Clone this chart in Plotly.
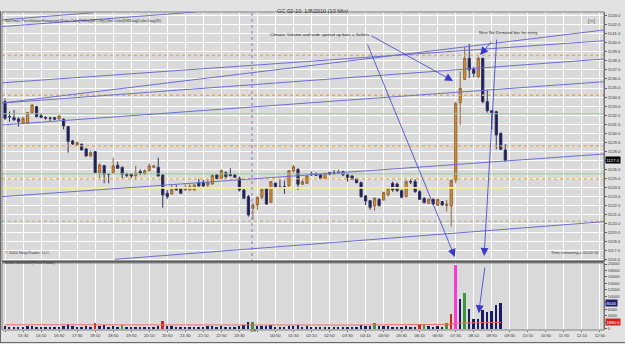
import plotly.graph_objects as go

# ---------------- data ----------------
bars = list(range(112))

opens = [1133.49,1131.85,1131.72,1131.58,1131.10,1131.10,1132.28,1132.94,1131.94,1131.72,
1131.68,1131.72,1131.58,1131.54,1130.73,1129.14,1128.70,1128.77,1128.26,1127.48,
1127.96,1125.64,1126.41,1125.47,1125.64,1126.45,1126.23,1125.49,1125.49,1125.31,
1125.75,1125.49,1125.86,1126.23,1126.23,1125.38,1123.35,1123.28,1123.91,1123.91,
1123.72,1123.72,1123.72,1124.53,1124.57,1124.27,1124.39,1125.38,1124.98,1125.64,
1125.45,1125.38,1125.01,1123.72,1122.98,1121.69,1122.06,1122.91,1123.90,1122.35,
1124.46,1124.05,1124.09,1124.20,1125.82,1126.00,1124.35,1124.46,1125.56,1125.56,
1125.45,1125.01,1125.64,1125.60,1125.56,1125.75,1125.41,1125.27,1124.94,1124.53,
1123.06,1122.54,1121.95,1122.69,1122.61,1123.17,1124.45,1124.38,1123.64,1122.98,
1124.66,1124.64,1123.53,1122.80,1122.24,1122.68,1122.02,1122.43,1122.00,1121.95,
1124.82,1133.38,1135.96,1138.28,1137.07,1136.25,1138.28,1133.49,1132.49,1132.38,
1129.99,1128.14]

highs = [1133.86,1132.39,1132.57,1131.76,1131.83,1132.35,1133.24,1133.01,1132.20,1131.90,
1131.83,1131.80,1132.02,1131.65,1130.80,1129.25,1129.07,1128.88,1128.33,1128.07,
1128.04,1126.67,1126.49,1125.57,1127.30,1126.86,1126.30,1125.64,1125.57,1126.38,
1126.01,1126.01,1126.67,1126.49,1127.30,1125.45,1123.72,1124.27,1124.27,1124.00,
1124.35,1124.46,1124.39,1124.98,1124.83,1124.90,1125.45,1125.45,1126.01,1125.75,
1126.12,1125.49,1125.20,1123.91,1123.17,1122.24,1122.98,1123.90,1123.98,1124.71,
1124.57,1124.83,1124.75,1125.93,1126.48,1126.12,1124.83,1125.38,1125.75,1125.64,
1125.56,1125.64,1125.71,1125.93,1126.00,1125.82,1125.56,1125.34,1125.01,1124.64,
1123.17,1122.61,1122.87,1122.80,1123.53,1124.09,1124.64,1124.53,1123.79,1124.82,
1124.90,1124.90,1123.72,1122.91,1122.80,1122.80,1122.75,1122.50,1122.61,1124.90,
1133.49,1136.81,1139.57,1139.87,1137.36,1138.47,1138.39,1134.78,1132.57,1132.49,
1130.06,1128.80]

lows = [1131.47,1131.28,1131.39,1130.73,1130.99,1131.02,1132.20,1131.76,1131.65,1131.50,
1131.28,1131.45,1131.47,1130.43,1127.85,1128.70,1128.60,1128.07,1127.41,1127.41,
1125.57,1125.01,1124.46,1124.46,1125.57,1126.01,1124.94,1125.09,1125.01,1124.83,
1125.38,1125.38,1125.75,1126.12,1125.20,1121.77,1122.73,1123.17,1123.65,1123.28,
1123.65,1123.65,1123.65,1124.09,1124.09,1123.91,1124.27,1124.90,1124.90,1124.94,
1125.20,1125.01,1123.54,1122.69,1120.77,1120.40,1121.51,1122.69,1122.06,1122.24,
1123.90,1123.90,1123.30,1123.90,1125.64,1123.72,1124.27,1124.38,1125.27,1125.27,
1124.90,1124.94,1125.34,1125.38,1125.45,1125.27,1124.64,1124.83,1124.46,1122.87,
1122.06,1121.51,1121.43,1121.88,1122.54,1122.98,1123.53,1123.53,1122.80,1122.91,
1124.38,1123.42,1122.61,1122.24,1122.17,1122.06,1121.95,1121.98,1121.32,1119.66,
1124.45,1130.91,1135.89,1136.07,1136.18,1136.07,1133.30,1132.27,1130.43,1128.22,
1128.14,1126.85]

closes = [1131.65,1131.80,1131.47,1131.28,1131.65,1132.28,1133.12,1131.83,1131.76,1131.68,
1131.63,1131.54,1131.91,1130.80,1129.07,1128.81,1128.96,1128.15,1127.48,1127.85,
1125.64,1126.49,1125.45,1125.43,1126.38,1126.12,1125.45,1125.34,1125.27,1125.57,
1125.57,1125.86,1126.38,1126.38,1125.27,1123.17,1122.98,1123.80,1123.72,1123.35,
1123.91,1124.09,1124.27,1124.16,1124.16,1124.53,1125.34,1124.98,1125.86,1125.20,
1125.31,1125.12,1123.72,1122.80,1120.96,1122.06,1122.91,1123.79,1122.17,1124.64,
1124.01,1124.00,1123.98,1125.86,1126.30,1124.35,1124.64,1125.27,1125.45,1125.34,
1125.01,1125.56,1125.45,1125.56,1125.75,1125.38,1125.12,1124.90,1124.53,1122.98,
1122.50,1121.80,1122.80,1121.99,1123.42,1123.90,1123.72,1123.64,1122.91,1124.64,
1124.62,1123.53,1122.68,1122.32,1122.68,1122.17,1122.68,1122.06,1122.17,1124.75,
1133.30,1134.96,1138.28,1137.00,1136.62,1138.28,1133.49,1132.49,1132.27,1129.80,
1128.22,1127.00]

# volume is plotted on bar close, so the forming bar (111) has no volume bar yet
vol_bars = list(range(111))
volume = [700,500,450,550,400,650,700,600,450,350,
300,350,400,800,1300,700,500,600,800,600,
1800,900,1000,600,900,500,1000,450,400,600,
400,500,600,400,900,2400,900,700,500,500,
450,500,600,500,450,700,800,500,700,500,
550,450,900,1000,2100,2000,900,800,700,1000,
500,450,600,900,700,1000,500,700,400,350,
500,500,350,350,400,350,450,400,500,1200,
700,800,1600,700,800,700,600,500,600,900,
400,600,1400,1500,700,600,800,600,1800,4600,
19700,9200,10900,6200,3100,2900,5700,5100,5300,7200,
8044]

# volume bar class: n = normal, r = climax, g = churn, m = climax+churn
vol_kind = {20: 'r', 35: 'r', 92: 'r', 99: 'r',
            26: 'g', 55: 'g', 82: 'g', 93: 'g', 98: 'g', 102: 'g',
            100: 'm'}

vol_avg = [1150,1150,1140,1140,1130,1130,1130,1120,1120,1110,
1100,1100,1100,1110,1140,1150,1150,1150,1160,1160,
1200,1210,1220,1220,1230,1230,1240,1240,1240,1240,
1240,1240,1240,1240,1250,1300,1300,1300,1290,1280,
1270,1260,1250,1240,1230,1220,1210,1200,1190,1180,
1170,1160,1160,1170,1200,1220,1220,1220,1220,1220,
1210,1200,1190,1180,1170,1160,1150,1140,1130,1120,
1110,1100,1090,1080,1070,1060,1060,1060,1060,1070,
1070,1080,1100,1100,1100,1100,1100,1100,1100,1110,
1100,1100,1120,1140,1140,1140,1150,1150,1180,1280,
1650,1720,1780,1800,1790,1780,1800,1820,1840,1860,
1880]

tick_bars = list(range(0, 133, 4))
tick_labels = ["14:50","15:30","16:10","16:50","17:30","18:10","18:50","19:30","20:10",
               "20:50","21:30","22:10","22:50","23:30","","00:50","01:30","02:10",
               "02:50","03:30","04:10","04:50","05:30","06:10","06:50","07:30","08:10",
               "08:50","09:30","10:10","10:50","11:30","12:10","12:50"]
date_break_bar = 54.8
date_label = "1/8"

price_ticks = list(range(1116, 1144))
volume_ticks = list(range(0, 20001, 2000))

orange_levels = [1138.6, 1134.2, 1128.6, 1124.95, 1120.25]
green_levels = [1132.15, 1125.5]
yellow_level = 1123.95

# trend lines: (bar0, price0, bar1, price1)
trend_lines = [(-1.11, 1142.52, 19.52, 1143.33),
               (-1.11, 1141.78, 42.37, 1143.41),
               (-0.67, 1133.34, 132.9, 1138.21),
               (-0.67, 1130.91, 132.9, 1135.70),
               (-0.67, 1122.98, 132.9, 1127.70),
               (24.4, 1116.05, 132.9, 1120.21),
               (-0.67, 1133.34, 132.9, 1141.42),
               (-1.11, 1135.56, 132.9, 1140.23)]

# arrows on price panel: (head_bar, head_price, tail_bar, tail_price)
price_arrows = [(99.4, 1135.78, 80.97, 1140.87),
                (99.8, 1116.31, 80.3, 1139.98),
                (105.4, 1138.65, 108.25, 1140.31),
                (106.3, 1116.42, 109.1, 1140.53)]
# arrow on volume panel: (head_bar, head_vol, tail_bar, tail_vol)
volume_arrows = [(105.1, 4730, 106.5, 19390)]

note1 = ("Climatic Volume and wide spread up bars = Sellers", 69.9, 1140.87)
note2 = ("Nice No Demand bar for entry", 111.8, 1141.09)

X_RANGE = [-0.67, 132.9]
P_RANGE = [1115.75, 1143.41]
V_RANGE = [-465, 20310]

# ---------------- figure ----------------
W, H = 625, 344
ML, MR, MT, MB = 2, 21, 12, 14
def px(x):
    return (x - ML) / (W - ML - MR)
def py(y):
    return (H - MB - y) / (H - MT - MB)

FONT = "Arial, Liberation Sans, sans-serif"
LINE_BLUE = "#6e6ed2"
AX_FS = 4.2

fig = go.Figure()

for lv in orange_levels:
    fig.add_trace(go.Scatter(x=X_RANGE, y=[lv, lv], mode="lines",
                             line=dict(color="#f0a848", width=1.3, dash="dot"),
                             hoverinfo="skip", showlegend=False))
for lv in green_levels:
    fig.add_trace(go.Scatter(x=X_RANGE, y=[lv, lv], mode="lines",
                             line=dict(color="#9cc89c", width=1),
                             hoverinfo="skip", showlegend=False))
fig.add_trace(go.Scatter(x=[X_RANGE[0], bars[-1]], y=[yellow_level, yellow_level], mode="lines",
                         line=dict(color="#f2f08a", width=1.6),
                         hoverinfo="skip", showlegend=False))

for (b0, p0, b1, p1) in trend_lines:
    fig.add_trace(go.Scatter(x=[b0, b1], y=[p0, p1], mode="lines",
                             line=dict(color=LINE_BLUE, width=1),
                             hoverinfo="skip", showlegend=False))

fig.add_trace(go.Candlestick(
    x=bars, open=opens, high=highs, low=lows, close=closes,
    increasing=dict(fillcolor="#e68a28", line=dict(color="#8e6a3e", width=1)),
    decreasing=dict(fillcolor="#16165a", line=dict(color="#34345e", width=1)),
    whiskerwidth=0, showlegend=False, xaxis="x", yaxis="y"))

kind_color = {"n": "#1c1c5e", "r": "#c8281e", "g": "#3c963c", "m": "#ff38d8"}
vcolors = [kind_color[vol_kind.get(i, "n")] for i in vol_bars]
fig.add_trace(go.Bar(x=vol_bars, y=volume, marker=dict(color=vcolors, line=dict(width=0)),
                     width=0.42, xaxis="x2", yaxis="y2", showlegend=False))
fig.add_trace(go.Scatter(x=vol_bars, y=vol_avg, mode="lines",
                         line=dict(color="#ee6a6a", width=1),
                         xaxis="x2", yaxis="y2", showlegend=False, hoverinfo="skip"))

annotations = []
for (txt, bx, pr) in (note1, note2):
    annotations.append(dict(x=bx, y=pr, xref="x", yref="y", text=txt, showarrow=False,
                            font=dict(family=FONT, size=4.4, color="#222222")))
for (hb, hp, tb, tp) in price_arrows:
    annotations.append(dict(x=hb, y=hp, ax=tb, ay=tp, xref="x", yref="y", axref="x", ayref="y",
                            text="", showarrow=True, arrowhead=2, arrowsize=2, arrowwidth=0.8,
                            arrowcolor="#3a3acc"))
for (hb, hv, tb, tv) in volume_arrows:
    annotations.append(dict(x=hb, y=hv, ax=tb, ay=tv, xref="x2", yref="y2", axref="x2", ayref="y2",
                            text="", showarrow=True, arrowhead=2, arrowsize=2, arrowwidth=0.8,
                            arrowcolor="#3a3acc"))

annotations += [
    dict(x=px(312), y=py(6), xref="paper", yref="paper",
         text="GC 02-10  1/8/2010 (10 Min)", showarrow=False,
         font=dict(family=FONT, size=5.6, color="#333333")),
    dict(x=px(3), y=py(17), xref="paper", yref="paper", xanchor="left",
         text="BarTimer, PriceVolumeHistogram(UData.Color[Yellow](ET,Off)(1)Sel.Color[DWDiag]Color.Diag(35)",
         showarrow=False, font=dict(family=FONT, size=3.6, color="#333333")),
    dict(x=px(3), y=py(256.5), xref="paper", yref="paper", xanchor="left",
         text="© 2010 NinjaTrader, LLC", showarrow=False,
         font=dict(family=FONT, size=4, color="#333333")),
    dict(x=px(601), y=py(256.5), xref="paper", yref="paper", xanchor="right",
         text="Time remaining = 00:02:26", showarrow=False,
         font=dict(family=FONT, size=4, color="#333333")),
    dict(x=px(3), y=py(266.5), xref="paper", yref="paper", xanchor="left",
         text="BetterVolume3(False,False)", showarrow=False,
         font=dict(family=FONT, size=4, color="#333333")),
    dict(x=px(597), y=py(16), xref="paper", yref="paper",
         text="[>]", showarrow=False, font=dict(family=FONT, size=6, color="#555555")),
    dict(x=55, y=py(335), xref="x2", yref="paper", text=date_label, showarrow=False,
         font=dict(family=FONT, size=AX_FS, color="#333333")),
    dict(x=1, y=closes[-1], xref="paper", yref="y", xanchor="left", xshift=1,
         text=f"{closes[-1]:.1f}", showarrow=False, bgcolor="#000000", borderpad=0.5,
         font=dict(family=FONT, size=AX_FS, color="#ffffff")),
    dict(x=1, y=volume[-1], xref="paper", yref="y2", xanchor="left", xshift=1,
         text=f"{volume[-1]}", showarrow=False, bgcolor="#1c1c70", borderpad=0.5,
         font=dict(family=FONT, size=AX_FS, color="#ffffff")),
    dict(x=1, y=vol_avg[-1], xref="paper", yref="y2", xanchor="left", xshift=1,
         text=f"{vol_avg[-1]:.1f}", showarrow=False, bgcolor="#d02020", borderpad=0.5,
         font=dict(family=FONT, size=AX_FS, color="#ffffff")),
]

price_ticktext = ["" if v == round(closes[-1]) else f"{v:.1f}" for v in price_ticks]
covered = {min(volume_ticks, key=lambda t: abs(t - volume[-1])),
           min(volume_ticks, key=lambda t: abs(t - vol_avg[-1]))}
volume_ticktext = ["" if v in covered else str(v) for v in volume_ticks]

shapes = [
    dict(type="line", xref="x", yref="paper", x0=date_break_bar, x1=date_break_bar,
         y0=py(262), y1=1, line=dict(color="#8a70c8", width=1, dash="dot")),
    dict(type="rect", xref="paper", yref="paper", x0=0, x1=1, y0=py(262), y1=1,
         line=dict(color="#808080", width=1)),
    dict(type="rect", xref="paper", yref="paper", x0=0, x1=1, y0=0, y1=py(263),
         line=dict(color="#808080", width=1)),
    dict(type="line", xref="paper", yref="paper", x0=0, x1=1, y0=py(261.5), y1=py(261.5),
         line=dict(color="#5a5a5a", width=2)),
    dict(type="line", xref="paper", yref="paper", x0=px(0.5), x1=px(0.5), y0=py(343), y1=py(11),
         line=dict(color="#6a6a6a", width=1)),
    dict(type="line", xref="paper", yref="paper", x0=px(0), x1=px(625), y0=py(342.5), y1=py(342.5),
         line=dict(color="#6a6a6a", width=1)),
]

fig.update_layout(
    width=W, height=H,
    margin=dict(l=ML, r=MR, t=MT, b=MB, pad=0),
    paper_bgcolor="#e2e2e2", plot_bgcolor="#dadada",
    showlegend=False, bargap=0,
    font=dict(family=FONT, size=AX_FS, color="#333333"),
    annotations=annotations, shapes=shapes,
    xaxis=dict(domain=[0, 1], range=X_RANGE, anchor="y", tickvals=tick_bars,
               showticklabels=False, ticks="", showgrid=True, gridcolor="#ffffff", gridwidth=1,
               zeroline=False, rangeslider=dict(visible=False), fixedrange=True),
    xaxis2=dict(domain=[0, 1], range=X_RANGE, anchor="y2", matches="x", tickvals=tick_bars,
                ticktext=tick_labels, ticks="outside", ticklen=1, tickcolor="#606060",
                tickfont=dict(family=FONT, size=AX_FS, color="#333333"),
                showgrid=True, gridcolor="#ffffff", gridwidth=1, zeroline=False),
    yaxis=dict(domain=[py(262), 1], range=P_RANGE, side="right",
               tickvals=price_ticks, ticktext=price_ticktext,
               ticks="outside", ticklen=2, tickcolor="#606060",
               tickfont=dict(family=FONT, size=AX_FS, color="#333333"),
               showgrid=True, gridcolor="#ffffff", gridwidth=1, zeroline=False,
               showline=True, linecolor="#606060", fixedrange=True),
    yaxis2=dict(domain=[0, py(263)], range=V_RANGE, side="right",
                tickvals=volume_ticks, ticktext=volume_ticktext, ticks="outside", ticklen=2,
                tickcolor="#606060", tickfont=dict(family=FONT, size=AX_FS, color="#333333"),
                showgrid=False, zeroline=False, showline=True, linecolor="#606060"),
)

fig.write_html("out.html")
